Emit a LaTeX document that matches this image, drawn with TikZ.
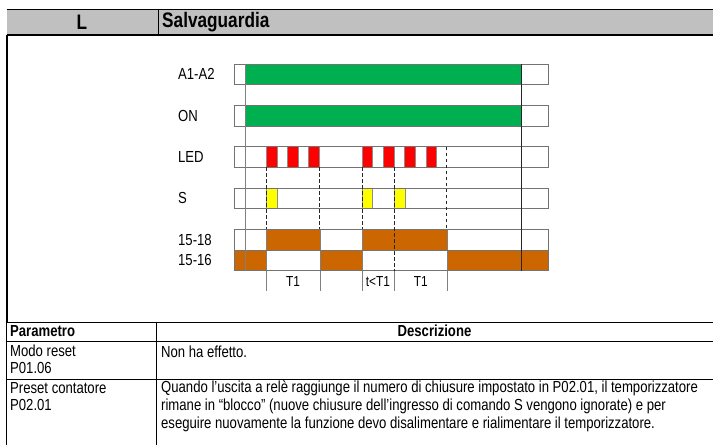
\documentclass[tikz,border=0pt]{standalone}
\usepackage{fontspec}
\setmainfont{Liberation Sans}
\newfontfamily\narrowfont[FakeStretch=0.82]{Liberation Sans}
\usetikzlibrary{positioning}

\definecolor{supgreen}{RGB}{0,176,80}
\definecolor{ledred}{RGB}{255,0,0}
\definecolor{cmdyellow}{RGB}{255,255,0}
\definecolor{relbrown}{RGB}{204,102,0}
\definecolor{hdrgrey}{RGB}{192,192,192}

\tikzset{
  sigbox/.style={draw=black!55, line width=0.8pt},
  pulse/.style={draw=black!45, line width=0.5pt},
  marker/.style={draw=black!85, dash pattern=on 3.5pt off 2.5pt, line width=1pt},
  tick/.style={draw=black!50, line width=0.7pt},
  siglabel/.style={anchor=west, inner sep=0pt, font=\narrowfont\fontsize{16}{18}\selectfont},
  tlabel/.style={inner sep=0pt, font=\narrowfont\fontsize{14.5}{16}\selectfont},
  cell/.style={anchor=base west, inner sep=0pt, font=\narrowfont\fontsize{16}{18}\selectfont},
  hdr/.style={inner sep=0pt, font=\narrowfont\bfseries\fontsize{21}{24}\selectfont}
}

\begin{document}
\begin{tikzpicture}[x=1pt, y=-1pt]
    \useasboundingbox (0,0) rectangle (713,445);

    % header row
    \fill[hdrgrey] (6.5,9) rectangle (713,35);
    \draw[line width=0.8pt] (6.5,9) -- (713,9);
    \draw[line width=1.3pt] (6.5,35) -- (713,35);
    \draw[line width=0.6pt] (158,9) -- (158,35);
    \node[hdr] (code) at (82,22) {L};
    \node[hdr, anchor=west] (title) at (162,22) {Salvaguardia};
    \draw[line width=1.6pt] (6.7,35) -- (6.7,322);

    % signal bands
    \fill[supgreen] (245,64) rectangle (521.7,84.3);
    \fill[supgreen] (245,105) rectangle (521.7,126);
    \foreach \xa/\xb in {266.3/277, 287.3/298, 308.7/319.3, 362/372.7, 383.3/394, 404.7/415.3, 426/436.7}
        \filldraw[pulse, fill=ledred] (\xa,146.7) rectangle (\xb,167.3);
    \foreach \xa/\xb in {266.3/277, 362/372.7, 394.3/405}
        \filldraw[pulse, fill=cmdyellow] (\xa,188) rectangle (\xb,208.7);
    \foreach \xa/\xb in {266.3/320, 362/447.3}
        \fill[relbrown] (\xa,229.3) rectangle (\xb,250);
    \foreach \xa/\xb in {234/266.3, 320/362, 447.3/548.3}
        \fill[relbrown] (\xa,250) rectangle (\xb,270.7);
    \foreach \xa in {266.3, 320, 362, 447.3}
        \draw[black!50, line width=0.6pt] (\xa,229.3) -- (\xa,270.7);

    \foreach \ya/\yb in {64/84.3, 105/126, 146.7/167.3, 188/208.7, 229.3/250, 250/270.7}
        \draw[sigbox] (234,\ya) rectangle (548.3,\yb);

    % supply on / off
    \draw[black!50, line width=0.8pt] (245,64) -- (245,270.7);
    \draw[black!85, line width=0.8pt] (521.7,64) -- (521.7,270.7);

    % timing markers
    \foreach \xm in {266.3, 319.3, 362}
        \draw[marker] (\xm,167.3) -- (\xm,229.3);
    \draw[marker] (394,167.3) -- (394,270.7);
    \draw[marker] (446.7,146.7) -- (446.7,229.3);
    \foreach \xm in {266.3, 320, 362, 394, 447.3}
        \draw[tick] (\xm,270.7) -- (\xm,291);

    \node[siglabel] (lbla) at (178,74.2) {A1-A2};
    \node[siglabel] (lblon) at (178,115.5) {ON};
    \node[siglabel] (lblled) at (178,157) {LED};
    \node[siglabel] (lbls) at (178,198.3) {S};
    \node[siglabel] (lblno) at (178,239.7) {15-18};
    \node[siglabel] (lblnc) at (178,260.3) {15-16};
    \node[tlabel] (tfirst) at (293,281.5) {T1};
    \node[tlabel] (tshort) at (378,281.5) {t<T1};
    \node[tlabel] (tsecond) at (420.7,281.5) {T1};

    % parameter table
    \foreach \yl in {322, 341, 379}
        \draw[line width=0.8pt] (6.5,\yl) -- (713,\yl);
    \draw[line width=0.8pt] (6.7,322) -- (6.7,445);
    \draw[line width=0.8pt] (156,322) -- (156,445);
    \node[cell, font=\narrowfont\bfseries\fontsize{16}{18}\selectfont] (colpar) at (10,336.5) {Parametro};
    \node[cell, anchor=base, font=\narrowfont\bfseries\fontsize{16}{18}\selectfont] (coldesc) at (434.5,336.5) {Descrizione};
    \node[cell] (modo) at (10,356.5) {Modo reset};
    \node[cell] (modocode) at (10,373.5) {P01.06};
    \node[cell] (mododesc) at (161,357) {Non ha effetto.};
    \node[cell] (preset) at (10,393.5) {Preset contatore};
    \node[cell] (presetcode) at (10,410.5) {P02.01};
    \foreach \ln [count=\i] in {{Quando l’uscita a relè raggiunge il numero di chiusure impostato in P02.01, il temporizzatore},
                               {rimane in “blocco” (nuove chiusure dell’ingresso di comando S vengono ignorate) e per},
                               {eseguire nuovamente la funzione devo disalimentare e rialimentare il temporizzatore.}}
        \node[cell] (desc\i) at (161,374.5+\i*18) {\ln};
\end{tikzpicture}
\end{document}
